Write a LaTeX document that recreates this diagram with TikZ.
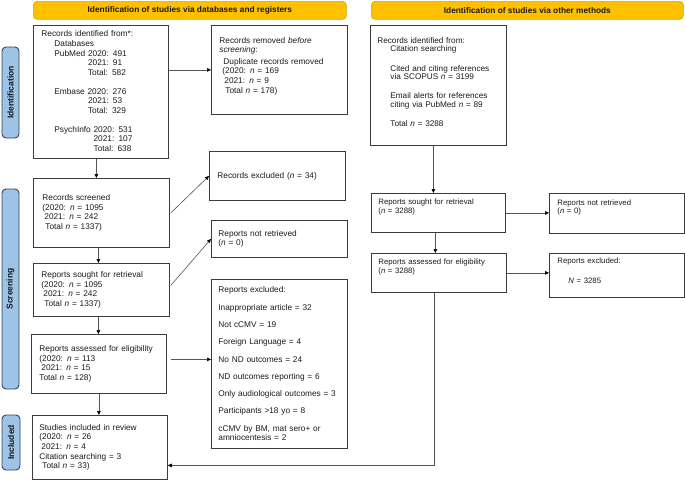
\documentclass[tikz,border=0pt]{standalone}
\usepackage{fontspec}
\setmainfont{Liberation Sans}
\usetikzlibrary{arrows.meta,calc}
\definecolor{hdrfill}{HTML}{FFC000}
\definecolor{hdrdraw}{HTML}{D9A400}
\definecolor{sidefill}{HTML}{9DC3E6}
\definecolor{sidedraw}{HTML}{34435A}
\definecolor{boxdraw}{HTML}{3C3C3C}
\definecolor{linecol}{HTML}{555555}
\definecolor{txt}{HTML}{1A1A1A}
\newcommand{\nvar}{\textit{n}}
\begin{document}
\begin{tikzpicture}[x=1pt,y=-1pt,
  hdr/.style={draw=hdrdraw, fill=hdrfill, rounded corners=4pt, line width=0.7pt, anchor=north west, inner sep=0pt, text=txt, font=\fontsize{8.3}{10}\selectfont\bfseries},
  side/.style={draw=sidedraw, fill=sidefill, rounded corners=4pt, line width=0.9pt, anchor=center, inner sep=0pt, rotate=90, text=txt, font=\fontsize{8.5}{10}\selectfont\bfseries},
  box/.style={draw=boxdraw, line width=0.8pt, anchor=north west, align=left, inner ysep=0pt, text=txt, font=\fontsize{8.3}{9.6}\selectfont},
  rbox/.style={box, font=\fontsize{8.2}{8.7}\selectfont},
  sbox/.style={box, font=\fontsize{7.8}{8.6}\selectfont},
  conn/.style={draw=linecol, line width=0.6pt},
  arr/.style={conn, -{Triangle[length=4pt,width=3.6pt,color=black]}}
]
\useasboundingbox (0,0) rectangle (685,480);

% headers
\node[hdr, minimum width=313pt, minimum height=18pt] (hdrL) at (33,1) {Identification of studies via databases and registers};
\node[hdr, minimum width=312pt, minimum height=18pt] (hdrR) at (371,1) {Identification of studies via other methods};

% side labels
\node[side, minimum width=91pt, minimum height=17pt] (sideI) at (10.5,92.5) {Identification};
\node[side, minimum width=200pt, minimum height=17pt] (sideS) at (10.5,289) {Screening};
\node[side, minimum width=55pt, minimum height=18pt] (sideC) at (11,442.5) {Included};

% left column
\node[box, inner xsep=8pt, text width=119pt, minimum height=133pt] (ident) at (33,25) {%
Records identified from*:\\
\hspace*{13pt}Databases\\
\hspace*{13pt}PubMed 2020: 491\\
\hspace*{13pt}\phantom{PubMed }2021: 91\\
\hspace*{13pt}\phantom{PubMed }Total: 582\\[9.2pt]
\hspace*{13pt}Embase 2020: 276\\
\hspace*{13pt}\phantom{PubMed }2021: 53\\
\hspace*{13pt}\phantom{PubMed }Total: 329\\[9.2pt]
\hspace*{13pt}PsychInfo 2020: 531\\
\hspace*{13pt}\phantom{PsychInfo }2021: 107\\
\hspace*{13pt}\phantom{PsychInfo }Total: 638};

\node[box, inner xsep=8pt, text width=120pt, minimum height=89pt] (removed) at (211,25) {%
Records removed \textit{before}\\
\textit{screening}:\\[2pt]
\hspace*{4pt}Duplicate records removed\\
\hspace*{3pt}(2020: \nvar{} = 169\\
\hspace*{5pt}2021: \nvar{} = 9\\
\hspace*{6pt}Total \nvar{} = 178)\\
\mbox{}};

\node[box, inner xsep=9pt, text width=118pt, minimum height=69pt] (screened) at (33,178) {%
Records screened\\
(2020: \nvar{} = 1095\\
\hspace*{2pt}2021: \nvar{} = 242\\
\hspace*{3pt}Total \nvar{} = 1337)};

\node[box, inner xsep=8pt, text width=120pt, minimum height=49pt] (excluded) at (209,151) {%
Records excluded (\nvar{} = 34)};

\node[box, inner xsep=7pt, text width=122pt, minimum height=37pt] (notret) at (211,220) {%
Reports not retrieved\\
(\nvar{} = 0)};

\node[box, inner xsep=8pt, text width=120pt, minimum height=53pt] (sought) at (33,263) {%
Reports sought for retrieval\\
(2020: \nvar{} = 1095\\
\hspace*{2pt}2021: \nvar{} = 242\\
\hspace*{3pt}Total \nvar{} = 1337)};

\node[box, inner xsep=7pt, text width=122pt, minimum height=169pt] (list) at (211,279) {%
Reports excluded:\\[7.7pt]
Inappropriate article = 32\\[7.7pt]
Not cCMV = 19\\[7.7pt]
Foreign Language = 4\\[7.7pt]
No ND outcomes = 24\\[7.7pt]
ND outcomes reporting = 6\\[7.7pt]
Only audiological outcomes = 3\\[7.7pt]
Participants >18 yo = 8\\[7.7pt]
cCMV by BM, mat sero+ or\\
amniocentesis = 2};

\node[box, inner xsep=8pt, text width=119pt, minimum height=59pt] (assessed) at (31,334) {%
Reports assessed for eligibility\\
(2020: \nvar{} = 113\\
\hspace*{2pt}2021: \nvar{} = 15\\
Total \nvar{} = 128)};

\node[box, inner xsep=7pt, text width=121pt, minimum height=64pt] (included) at (32,415) {%
Studies included in review\\
(2020: \nvar{} = 26\\
\hspace*{2pt}2021: \nvar{} = 4\\
Citation searching = 3\\
\hspace*{3pt}Total \nvar{} = 33)};

% right column
\node[rbox, inner xsep=7pt, text width=122pt, minimum height=120pt] (rtop) at (370,25) {%
Records identified from:\\
\hspace*{13pt}Citation searching\\[10.5pt]
\hspace*{13pt}Cited and citing references\\
\hspace*{13pt}via SCOPUS \nvar{} = 3199\\[10.5pt]
\hspace*{13pt}Email alerts for references\\
\hspace*{13pt}citing via PubMed \nvar{} = 89\\[10.5pt]
\hspace*{13pt}Total \nvar{} = 3288\\[-2pt]
\mbox{}};

\node[sbox, inner xsep=7pt, text width=120pt, minimum height=39pt] (rsought) at (371,193) {%
Reports sought for retrieval\\
(\nvar{} = 3288)\\[5pt]
\mbox{}};

\node[sbox, inner xsep=8pt, text width=119pt, minimum height=40pt] (rnotret) at (549,193) {%
Reports not retrieved\\
(\nvar{} = 0)\\[5pt]
\mbox{}};

\node[sbox, inner xsep=7pt, text width=121pt, minimum height=39pt] (rassessed) at (371,253) {%
Reports assessed for eligibility\\
(\nvar{} = 3288)\\[5pt]
\mbox{}};

\node[sbox, inner xsep=8pt, text width=119pt, minimum height=44pt] (rexcl) at (549,253) {%
Reports excluded:\\[11pt]
\hspace*{11pt}\textit{N} = 3285\\[1.4pt]
\mbox{}};

% connectors
\draw[arr] (removed.west -| ident.east) -- (removed.west);
\draw[arr] ([xshift=-4.5pt]ident.south) -- ([xshift=-4.5pt]ident.south |- screened.north);
\draw[arr] ([xshift=-3pt]screened.south) -- ([xshift=-3pt]screened.south |- sought.north);
\draw[arr] ([xshift=-3pt]sought.south) -- ([xshift=-3pt]sought.south |- assessed.north);
\draw[arr] (assessed.south) -- (assessed.south |- included.north);
\draw[arr] ([xshift=1pt]screened.east) -- (excluded.west);
\draw[arr] ([xshift=1pt,yshift=4.5pt]sought.east) -- (notret.west);
\draw[arr] ([xshift=4pt,yshift=4.5pt]assessed.east) -- ([yshift=4.5pt]assessed.east -| list.west);

\draw[arr] ([xshift=-5pt]rtop.south) -- ([xshift=-5pt]rtop.south |- rsought.north);
\draw[arr] (rsought.east) -- (rsought.east -| rnotret.west);
\draw[arr] ([xshift=-3pt]rsought.south) -- ([xshift=-3pt]rsought.south |- rassessed.north);
\draw[arr] (rassessed.east) -- (rassessed.east -| rexcl.west);
\draw[arr] ([xshift=-5pt]rassessed.south) |- ([yshift=-18pt]included.east);
\end{tikzpicture}
\end{document}
